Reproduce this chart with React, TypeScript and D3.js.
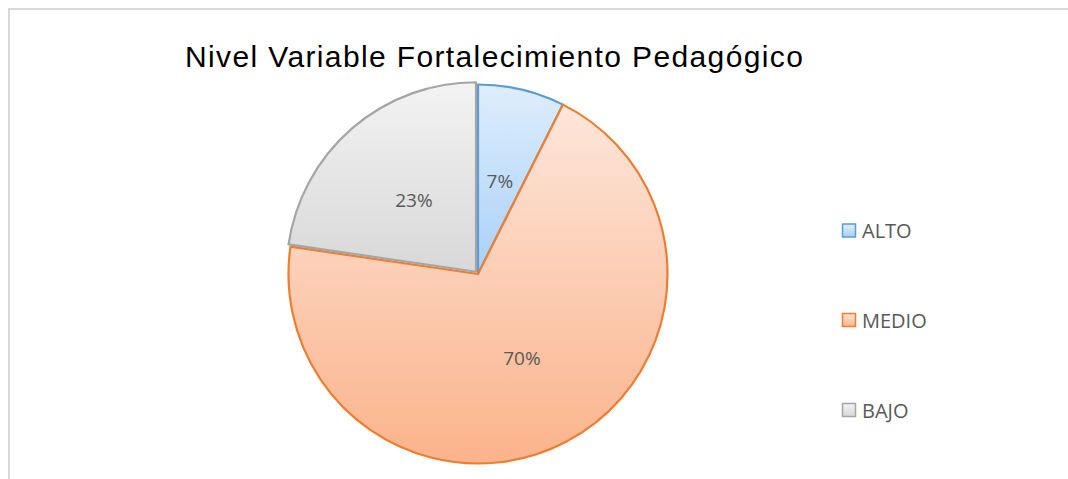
import * as d3 from "d3";
import { useEffect, useRef } from "react";

const categories = ["ALTO", "MEDIO", "BAJO"];
const shares = [7.4, 69.9, 22.7];
const strokeColors = ["#5b9bd5", "#ed7d31", "#a5a5a5"];
const gradTop = ["#deeefd", "#fde6da", "#f3f3f3"];
const gradBottom = ["#a9d0f7", "#fbb38b", "#d8d8d8"];
const titleText = "Nivel Variable Fortalecimiento Pedagógico";

export default function App() {
    const ref = useRef<SVGSVGElement>(null);

    useEffect(() => {
        const svg = d3.select(ref.current);
        svg.selectAll("*").remove();

        const cx = 478;
        const cy = 274;
        const radius = 189.5;

        // chart frame (only left and top edges are visible in the shot)
        svg.append("rect")
            .attr("x", 9).attr("y", 9)
            .attr("width", 1100).attr("height", 500)
            .attr("fill", "#fff")
            .attr("stroke", "#d9d9d9")
            .attr("stroke-width", 2);

        const defs = svg.append("defs");
        categories.forEach((c, i) => {
            const g = defs.append("linearGradient")
                .attr("id", "grad" + i)
                .attr("x1", 0).attr("y1", 0).attr("x2", 0).attr("y2", 1);
            g.append("stop").attr("offset", "0%").attr("stop-color", gradTop[i]);
            g.append("stop").attr("offset", "100%").attr("stop-color", gradBottom[i]);
        });

        svg.append("text")
            .attr("x", 185).attr("y", 67)
            .attr("font-family", "Liberation Sans, Arial, sans-serif")
            .attr("font-size", 30)
            .attr("letter-spacing", 1.37)
            .attr("fill", "#000")
            .text(titleText);

        const pie = d3.pie<number>().sort(null).value((d) => d)(shares);
        const arc = d3.arc<d3.PieArcDatum<number>>().innerRadius(0).outerRadius(radius);
        const labelArc = d3.arc<d3.PieArcDatum<number>>().innerRadius(95).outerRadius(95);
        const explode = [0, 0, 3];

        const g = svg.append("g").attr("transform", `translate(${cx},${cy})`);

        const slices = g.selectAll("g.slice")
            .data(pie)
            .enter()
            .append("g")
            .attr("class", "slice")
            .attr("transform", (d, i) => {
                const mid = (d.startAngle + d.endAngle) / 2;
                return `translate(${Math.sin(mid) * explode[i]},${-Math.cos(mid) * explode[i]})`;
            });

        slices.append("path")
            .attr("d", arc)
            .attr("fill", (d, i) => `url(#grad${i})`)
            .attr("stroke", (d, i) => strokeColors[i])
            .attr("stroke-width", 2.2)
            .attr("stroke-linejoin", "round");

        slices.append("text")
            .attr("transform", (d) => `translate(${labelArc.centroid(d)})`)
            .attr("text-anchor", "middle")
            .attr("dy", "0.35em")
            .attr("font-family", "Open Sans, sans-serif")
            .attr("font-size", 19)
            .attr("fill", "#595959")
            .text((d) => Math.round(d.data) + "%");

        // legend
        const legendY = [231, 320.5, 410.5];
        const legend = svg.append("g");
        categories.forEach((c, i) => {
            legend.append("rect")
                .attr("x", 842.5).attr("y", legendY[i] - 7)
                .attr("width", 13).attr("height", 13)
                .attr("fill", `url(#grad${i})`)
                .attr("stroke", strokeColors[i])
                .attr("stroke-width", 1.5);
            legend.append("text")
                .attr("x", 862).attr("y", legendY[i])
                .attr("dy", "0.36em")
                .attr("font-family", "Open Sans, sans-serif")
                .attr("font-size", 20)
                .attr("fill", "#595959")
                .text(c);
        });
    }, []);

    return (
        <svg
            ref={ref}
            width={1068}
            height={479}
            style={{ position: "absolute", left: 0, top: 0, background: "#fff" }}
        />
    );
}
